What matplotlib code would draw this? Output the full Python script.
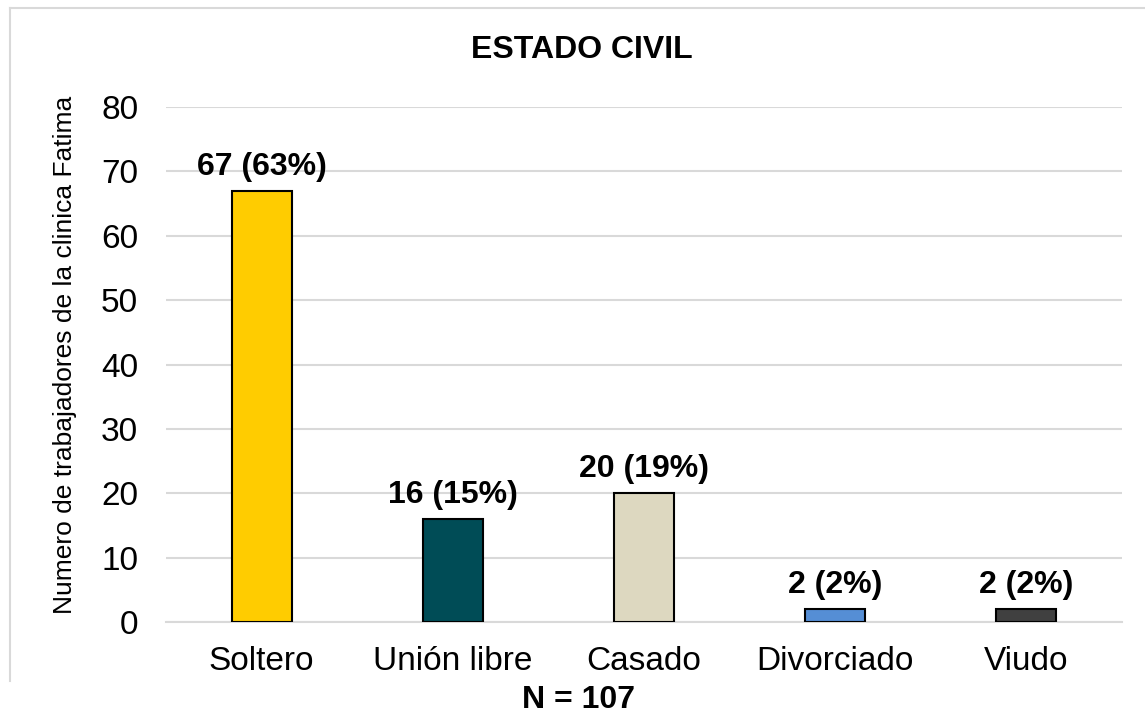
import numpy as np
import matplotlib.pyplot as plt
from matplotlib.lines import Line2D

plt.rcParams['font.family'] = ['Liberation Sans', 'DejaVu Sans']

# datos
categorias = ["Soltero", "Unión libre", "Casado", "Divorciado", "Viudo"]
valores = [67, 16, 20, 2, 2]
porcentajes = [63, 15, 19, 2, 2]
colores = ["#FFCC00", "#004C56", "#DDD8C0", "#558ED5", "#404040"]

fig = plt.figure(figsize=(11.45, 7.16), dpi=100)
W, H = 1145, 716
ax = fig.add_axes([166 / W, 1 - 622 / H, (1122 - 166) / W, (622 - 107) / H])

x = np.arange(len(categorias))
ax.bar(x, valores, width=0.314, color=colores, edgecolor="black", linewidth=1.5, zorder=3)

for xi, v, p in zip(x, valores, porcentajes):
    ax.annotate(f"{v} ({p}%)", (xi, v), xytext=(0, 6.5), textcoords="offset points",
                ha="center", va="bottom", fontsize=23, fontweight="bold")

ax.set_xlim(-0.5, len(categorias) - 0.5)
ax.set_ylim(0, 80)
ax.set_yticks(range(0, 81, 10))
ax.set_xticks(x)
ax.set_xticklabels(categorias)
ax.tick_params(axis="both", length=0, labelsize=24)
ax.tick_params(axis="y", pad=20)
ax.tick_params(axis="x", pad=17)
ax.grid(axis="y", color="#D9D9D9", linewidth=1.5, zorder=0)
for s in ["top", "right", "left"]:
    ax.spines[s].set_visible(False)
ax.spines["bottom"].set_color("#D9D9D9")
ax.spines["bottom"].set_linewidth(1.5)

ax.set_ylabel("Numero de trabajadores de la clinica Fatima", fontsize=19, va="center")
ax.yaxis.set_label_coords((65 - 166) / (1122 - 166), 0.518)

fig.text(582 / W, 1 - 50 / H, "ESTADO CIVIL", ha="center", va="center",
         fontsize=23, fontweight="bold")
fig.text(578 / W, 1 - 700 / H, "N = 107", ha="center", va="center",
         fontsize=23, fontweight="bold")

# borde del grafico
fig.add_artist(Line2D([10 / W, 1], [1 - 7.5 / H, 1 - 7.5 / H], color="#D9D9D9", linewidth=1.5))
fig.add_artist(Line2D([10 / W, 10 / W], [1 - 7.5 / H, 1 - 681 / H], color="#D9D9D9", linewidth=1.5))

fig.savefig("out.png", dpi=100)
